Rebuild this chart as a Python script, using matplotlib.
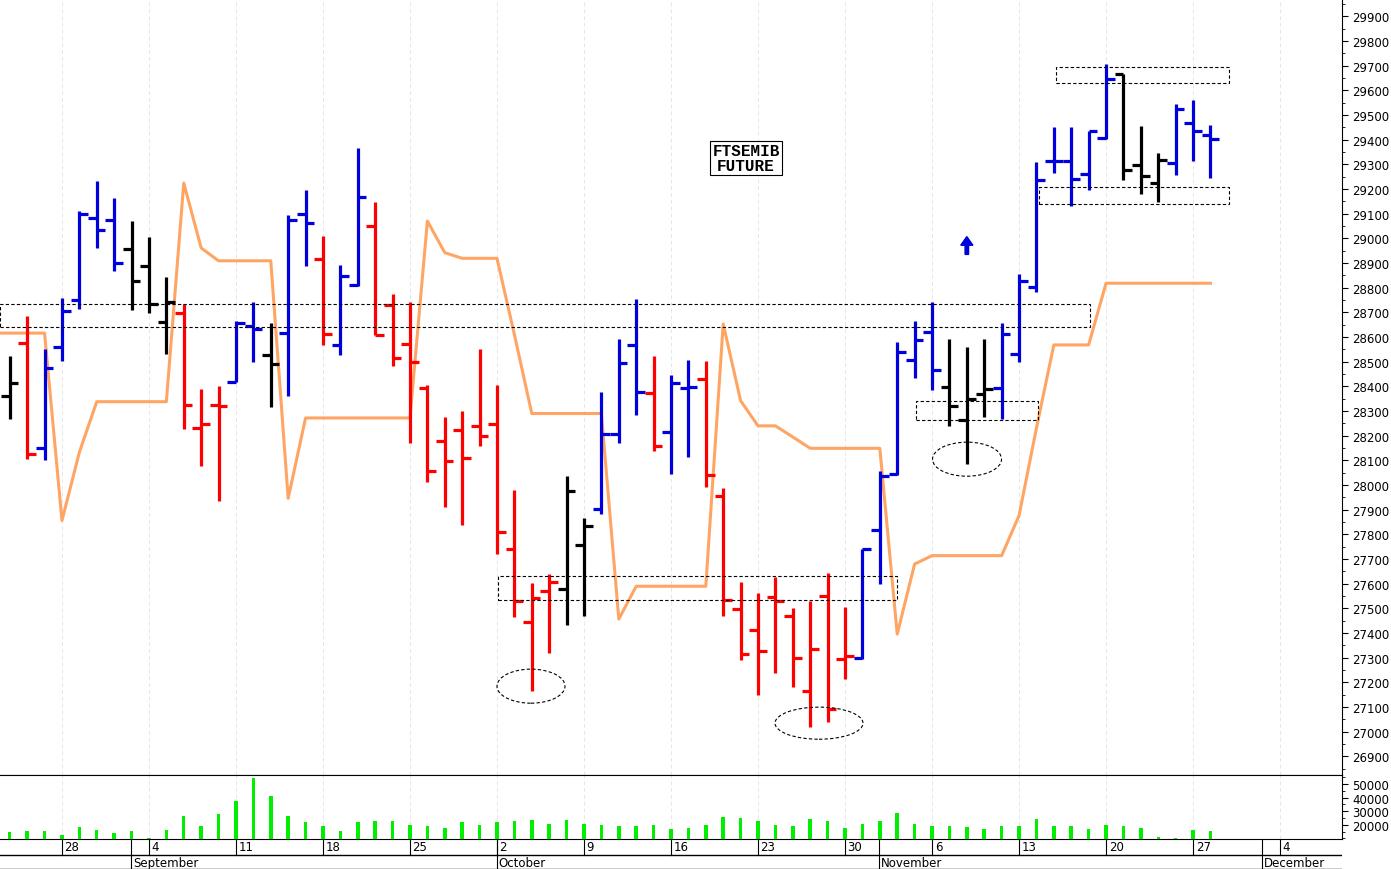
import matplotlib
matplotlib.use("Agg")
import matplotlib.pyplot as plt
from matplotlib.patches import Rectangle, Ellipse, FancyArrow
from matplotlib.ticker import MultipleLocator

# trading-day index: 0 = Mon 28 Aug 2017
days = list(range(-3, 67))
opens = [28362,28576,28149,28558,28750,29081,29076,28957,28889,28662,28697,28231,28324,28419,28646,28527,28616,29099,28916,28567,
         28810,29049,28728,28570,28394,28177,28225,28238,28248,27742,27445,27572,27580,27758,27902,28206,28567,28375,28214,28394,
         28430,27954,27498,27414,27545,27468,27164,27552,27295,27298,27819,28045,28507,28622,28396,28264,28369,28393,28532,28802,
         29313,29313,29261,29406,29667,29298,29225,29305,29468,29419]
highs = [28524,28684,28551,28758,29112,29234,29162,29071,29007,28842,28734,28389,28400,28666,28743,28655,29094,29197,29008,28890,
         29366,29147,28775,28741,28407,28274,28302,28551,28407,27982,27604,27641,28036,27868,28378,28594,28754,28525,28447,28508,
         28504,27988,27606,27562,27629,27500,27531,27642,27507,27741,28058,28578,28663,28740,28592,28558,28592,28655,28856,29309,
         29453,29453,29433,29705,29667,29455,29346,29545,29559,29460]
lows = [28268,28106,28103,28501,28713,28961,28869,28711,28697,28531,28227,28076,27934,28416,28497,28315,28362,28889,28568,28527,
        28807,28607,28482,28169,28012,27913,27838,28158,27721,27465,27165,27320,27432,27469,27881,28169,28282,28137,28046,28112,
        27991,27470,27292,27149,27238,27180,27018,27038,27214,27295,27599,28040,28434,28385,28241,28085,28277,28268,28498,28784,
        29265,29130,29194,29403,29238,29180,29149,29257,29315,29245]
closes = [28413,28126,28473,28704,29099,29035,28899,28826,28734,28740,28324,28247,28322,28655,28632,28491,29076,29061,28612,28847,
          29167,28610,28517,28498,28057,28097,28110,28197,27809,27529,27541,27609,27977,27836,28206,28493,28378,28157,28413,28398,
          28042,27534,27315,27329,27529,27299,27335,27092,27308,27741,28038,28540,28588,28466,28319,28349,28389,28612,28826,29237,
          29313,29241,29433,29644,29275,29252,29318,29525,29433,29403]
bar_colors = list("krbbbbbkkkrrrbbkbbrb" "brrrrrrrrrrrkkbbbrbb" "rrrrrrrrrbbbbbkkkbbb" "bbbbkkkbbb")
volumes = [14500,15300,15500,12550,18260,16000,14000,15300,10300,16000,26700,19250,28200,37600,54200,41600,26700,22200,18800,15300,
           22200,23000,23000,20000,19000,17500,22200,20000,22200,23000,23700,20700,23700,20700,20000,19250,19000,20000,17300,17800,
           20000,25700,25000,23000,20000,18800,24500,23000,17800,20700,22700,28700,20700,19000,19000,18300,16800,19000,19000,24200,
           18800,18800,16800,20000,18800,17500,11300,10600,16000,15300]
orange_days = list(range(-4, 67))
orange = [28616,28616,28616,28616,27856,28133,28338,28338,28338,28338,28338,29224,28961,28909,28909,28909,28909,27946,28272,28272,
          28272,28272,28272,28272,28272,29070,28942,28919,28919,28919,28610,28290,28290,28290,28290,28290,27457,27590,27590,27590,
          27590,27590,28653,28342,28240,28240,28195,28149,28149,28149,28149,28149,27396,27680,27714,27714,27714,27714,27714,27876,28231,
          28568,28568,28568,28818,28818,28818,28818,28818,28818,28818]
week_days = [0,5,10,15,20,25,30,35,40,45,50,55,60,65,70]
week_labels = ["28","4","11","18","25","2","9","16","23","30","6","13","20","27","4"]
month_days = [4,25,47,69]
month_labels = ["September","October","November","December"]

cmap = {"b": "#0000dd", "r": "#ff0000", "k": "#000000"}
W, H = 1391, 870
fig = plt.figure(figsize=(W/100, H/100), dpi=100)
xl = (-3.56, 73.56)
axw = 1342/W
ax = fig.add_axes([0, 94/H, axw, 776/H])
axv = fig.add_axes([0, 30/H, axw, 64/H])
axd = fig.add_axes([0, 0, axw, 30/H])

for a in (ax, axv):
    a.set_xlim(*xl)
    for d in week_days:
        a.axvline(d, color="#e6e6e6", lw=0.7, ls=(0, (4, 3)), zorder=0)
    a.yaxis.tick_right()
    a.spines["left"].set_visible(False)
    a.set_xticks([])
    a.tick_params(axis="y", which="major", labelsize=8.5, length=4, direction="out")
    a.tick_params(axis="y", which="minor", length=2.5, direction="out")

ax.spines["top"].set_visible(False)
ax.set_yticks(range(26900, 30000, 100))
ax.set_yticklabels([str(v) for v in range(26900, 30000, 100)])
ax.yaxis.set_minor_locator(MultipleLocator(50))
ax.set_ylim(26825, 29970)

ax.plot(orange_days, orange, color="#ffa564", lw=2.2, zorder=2)
for d, o, h, l, c, col in zip(days, opens, highs, lows, closes, bar_colors):
    cc = cmap[col]
    ax.vlines(d, l, h, color=cc, lw=2.3, zorder=3)
    ax.hlines(o, d - 0.5, d, color=cc, lw=2.3, zorder=3)
    ax.hlines(c, d, d + 0.5, color=cc, lw=2.3, zorder=3)

dash = (0, (3, 2))
def rect(x0, x1, y0, y1):
    ax.add_patch(Rectangle((x0, y0), x1 - x0, y1 - y0, fill=False, ec="black", lw=0.8, ls=dash, zorder=4))
def px(x):
    return (x - 62) / 17.4
rect(xl[0], px(1090), 28640, 28735)
rect(px(498), px(897), 27534, 27633)
rect(px(916), px(1038), 28264, 28339)
rect(px(1039), px(1229), 29140, 29210)
rect(px(1056), px(1229), 29629, 29694)
for cx, cy, w, h in [(531, 27185, 68, 138), (819, 27035, 88, 130), (967, 28105, 69, 138)]:
    ax.add_patch(Ellipse((px(cx), cy), w / 17.4, h, fill=False, ec="black", lw=0.8, ls=dash, zorder=4))
ax.add_patch(FancyArrow(52, 28935, 0, 72, width=0.2, head_width=0.7, head_length=35,
                        length_includes_head=True, color="#0000dd", zorder=5))
ax.text(px(746), 29326, "FTSEMIB\nFUTURE", ha="center", va="center", fontsize=11.5, fontweight="bold",
        family="Liberation Mono", linespacing=0.95,
        bbox=dict(boxstyle="square,pad=0.12", fc="white", ec="black", lw=0.8), zorder=6)

axv.bar(days, volumes, width=0.2, color="#00ee00", zorder=3)
axv.set_ylim(9600, 56700)
axv.set_yticks([20000, 30000, 40000, 50000])
axv.yaxis.set_minor_locator(MultipleLocator(5000))

axd.set_xlim(*xl)
axd.set_ylim(0, 30)
axd.axis("off")
axd.plot(xl, [14, 14], color="black", lw=1)
axd.plot(xl, [0.5, 0.5], color="black", lw=1)
for d, lab in zip(week_days, week_labels):
    axd.plot([d, d], [14, 30], color="black", lw=0.8)
    axd.text(d + 0.15, 22, lab, fontsize=8.5, va="center", ha="left")
for d, lab in zip(month_days, month_labels):
    dd = d - 0.02
    axd.plot([dd, dd], [0, 30], color="black", lw=0.8)
    axd.text(dd + 0.1, 6.5, lab, fontsize=8.5, va="center", ha="left")

fig.savefig("out.png", dpi=100)
